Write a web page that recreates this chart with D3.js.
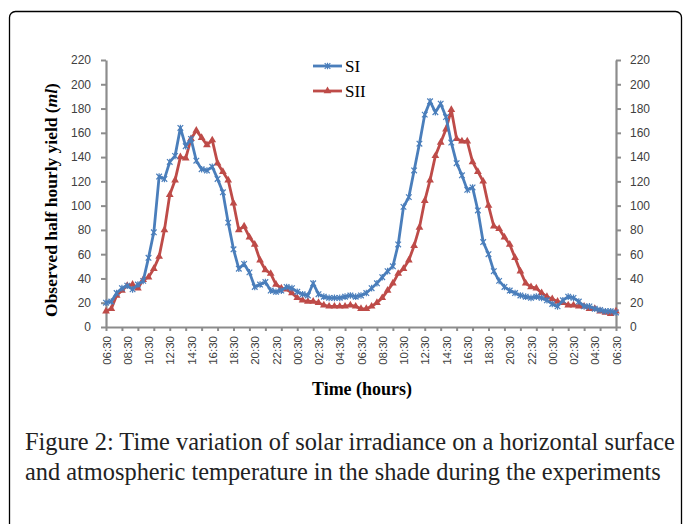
<!DOCTYPE html>
<meta charset="utf-8">
<script src="https://d3js.org/d3.v7.min.js"></script>
<style>
	body{
		margin:0;
		background:#fff;
	}
	.tickText{
		font-family:'Liberation Sans', Arial, sans-serif;
		fill:#404040;
	}
</style>
<div id="chart"></div>

<script>
	// half hourly readings, 06:30 day 1 to 06:30 day 3
	var times = ["06:30","07:00","07:30","08:00","08:30","09:00","09:30","10:00","10:30","11:00","11:30","12:00",
		"12:30","13:00","13:30","14:00","14:30","15:00","15:30","16:00","16:30","17:00","17:30","18:00",
		"18:30","19:00","19:30","20:00","20:30","21:00","21:30","22:00","22:30","23:00","23:30","00:00",
		"00:30","01:00","01:30","02:00","02:30","03:00","03:30","04:00","04:30","05:00","05:30","06:00",
		"06:30","07:00","07:30","08:00","08:30","09:00","09:30","10:00","10:30","11:00","11:30","12:00",
		"12:30","13:00","13:30","14:00","14:30","15:00","15:30","16:00","16:30","17:00","17:30","18:00",
		"18:30","19:00","19:30","20:00","20:30","21:00","21:30","22:00","22:30","23:00","23:30","00:00",
		"00:30","01:00","01:30","02:00","02:30","03:00","03:30","04:00","04:30","05:00","05:30","06:00","06:30"]

	var siValues = [20,21,28,32,34,31,35,38,57,78,124,122,136,141,164,149,155,137,130,129,132,122,111,86,
		64,48,52,45,33,35,37,30,29,30,33,32,29,27,26,36,27,25,24,24,24,25,26,25,
		26,28,32,36,41,46,50,68,99,107,129,151,175,186,177,184,173,152,135,125,113,115,96,70,
		60,46,38,33,30,28,26,25,24,25,24,22,19,17,22,25,24,21,17,17,15,14,13,13,12]

	var siiValues = [13,15,26,30,34,35,32,39,41,48,58,80,109,121,140,139,155,162,156,150,154,135,128,121,
		102,80,83,74,68,55,47,44,35,32,31,28,24,22,21,21,20,18,17,17,17,17,18,17,
		15,15,17,20,24,30,36,44,48,55,67,82,104,121,141,152,163,179,155,153,153,136,128,120,
		100,83,81,74,68,57,46,36,33,32,28,25,23,21,20,18,18,17,17,15,15,13,12,11,13]

	var yTicks = [0,20,40,60,80,100,120,140,160,180,200,220]
	var seriesNames = ["SI","SII"]
	var captionLines = ["Figure 2: Time variation of solar irradiance on a horizontal surface",
		"and atmospheric temperature in the shade during the experiments"]

	var blue = "#4a7ebb"
	var red = "#be4b48"
	var axisColor = "#8c8c8c"

	var w = 683
	var h = 524
	var plotLeft = 106, plotRight = 616, plotTop = 60, plotBottom = 327

	var svg = d3.select("#chart").append("svg").attr("width",w).attr("height",h)

	// frame round the figure
	svg.append("rect").attr("x",9.5).attr("y",11.5).attr("width",672).attr("height",540)
		.attr("rx",6).attr("fill","none").attr("stroke","#000").attr("stroke-width",1.3)

	var x = d3.scaleLinear().domain([0,times.length-1]).range([plotLeft,plotRight])
	var y = d3.scaleLinear().domain([0,220]).range([plotBottom,plotTop])

	// y axes
	var leftAxis = svg.append("g").attr("transform","translate("+plotLeft+",0)")
		.call(d3.axisLeft(y).tickValues(yTicks).tickSize(5).tickSizeOuter(0).tickPadding(10))
	var rightAxis = svg.append("g").attr("transform","translate("+plotRight+",0)")
		.call(d3.axisRight(y).tickValues(yTicks).tickSize(5).tickSizeOuter(0).tickPadding(9))

	// x axis: tick marks every 3 readings, labels every 4
	var markIdx = d3.range(0,times.length,3)
	var labelIdx = d3.range(0,times.length,4)
	var xMarks = svg.append("g").attr("transform","translate(0,"+plotBottom+")")
		.call(d3.axisBottom(x).tickValues(markIdx).tickSize(4).tickSizeOuter(0).tickFormat(""))
	var xLabels = svg.append("g").attr("transform","translate(0,"+plotBottom+")")
		.call(d3.axisBottom(x).tickValues(labelIdx).tickSize(0).tickFormat(function(d){return times[d]}))
	xLabels.select(".domain").remove()
	xLabels.selectAll("text")
		.attr("transform","rotate(-90)")
		.attr("x",-9).attr("y",0).attr("dy","0.35em")
		.style("text-anchor","end")

	svg.selectAll(".domain").attr("stroke",axisColor).attr("stroke-width",2.2)
	svg.selectAll(".tick line").attr("stroke",axisColor).attr("stroke-width",2)
	svg.selectAll(".tick text").attr("class","tickText").style("font-size","12px").attr("fill","#404040")
	xLabels.selectAll("text").style("font-size","11.5px")

	// lines
	var line = d3.line().x(function(d,i){return x(i)}).y(function(d){return y(d)})

	function starPath(s){
		return "M"+(-s)+","+(-s)+"L"+s+","+s+"M"+(-s)+","+s+"L"+s+","+(-s)+"M0,"+(-s-0.5)+"L0,"+(s+0.5)
	}
	var tri = d3.symbol().type(d3.symbolTriangle).size(26)

	function drawSeries(values,color,kind){
		var g = svg.append("g")
		g.append("path").datum(values).attr("d",line)
			.attr("fill","none").attr("stroke",color).attr("stroke-width",2.8).attr("stroke-linejoin","round")
		var m = g.selectAll(".mk").data(values).join("path").attr("class","mk")
			.attr("transform",function(d,i){return "translate("+x(i)+","+y(d)+")"})
		if(kind=="star"){
			m.attr("d",starPath(2.8)).attr("fill","none").attr("stroke",color).attr("stroke-width",1.2)
		}else{
			m.attr("d",tri()).attr("fill",color)
		}
	}
	drawSeries(siiValues,red,"tri")
	drawSeries(siValues,blue,"star")

	// legend
	var legend = svg.append("g")
	var legendItems = [{name:seriesNames[0],color:blue,kind:"star"},{name:seriesNames[1],color:red,kind:"tri"}]
	legendItems.forEach(function(item,k){
		var ly = 66+k*25
		legend.append("line").attr("x1",313).attr("x2",342).attr("y1",ly).attr("y2",ly)
			.attr("stroke",item.color).attr("stroke-width",2.8)
		var mk = legend.append("path").attr("transform","translate(327.5,"+ly+")")
		if(item.kind=="star"){
			mk.attr("d",starPath(2.8)).attr("fill","none").attr("stroke",item.color).attr("stroke-width",1.2)
		}else{
			mk.attr("d",tri()).attr("fill",item.color)
		}
		legend.append("text").attr("x",345).attr("y",ly+5.5).text(item.name)
			.style("font-family","'Liberation Serif', 'Times New Roman', serif").style("font-size","17px").attr("fill","#000")
	})

	function fitText(sel,target,base){
		var len = sel.node().getComputedTextLength()
		sel.style("font-size",(base*target/len)+"px")
	}

	// axis titles
	var yTitle = svg.append("text").attr("transform","translate(57,200) rotate(-90)")
		.style("text-anchor","middle").style("font-family","'Liberation Serif', 'Times New Roman', serif")
		.style("font-weight","bold").style("font-size","15px")
	yTitle.append("tspan").text("Observed half hourly yield (")
	yTitle.append("tspan").text("ml").style("font-style","italic")
	yTitle.append("tspan").text(")")
	fitText(yTitle,234,15)

	var xTitle = svg.append("text").attr("x",362).attr("y",395).text("Time (hours)")
		.style("text-anchor","middle").style("font-family","'Liberation Serif', 'Times New Roman', serif")
		.style("font-weight","bold").style("font-size","15px")
	fitText(xTitle,100,15)

	// caption
	var capWidths = [650,636]
	captionLines.forEach(function(t,k){
		var c = svg.append("text").attr("x",25).attr("y",450+k*30).text(t)
			.style("font-family","'Liberation Serif', 'Times New Roman', serif").style("font-size","20px").attr("fill","#222")
		fitText(c,capWidths[k],20)
	})
</script>
